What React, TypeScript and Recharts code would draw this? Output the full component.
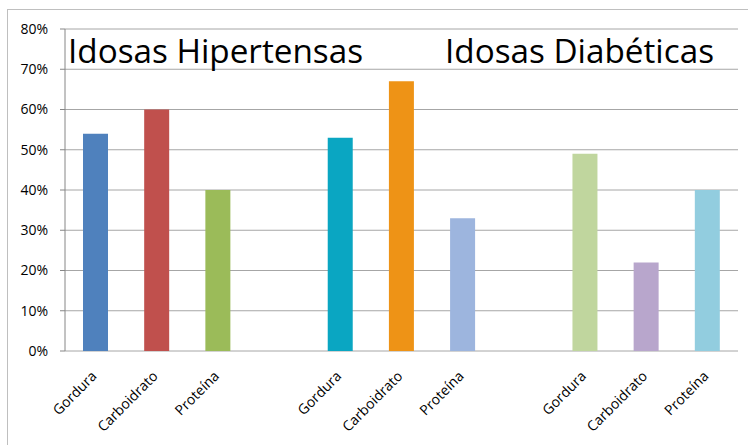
import { BarChart, Bar, XAxis, YAxis, CartesianGrid, Cell } from "recharts";

// 3 groups of 3 nutrients, with an empty slot between groups (as in the Excel sheet)
const categories = [
  "Gordura", "Carboidrato", "Proteína", "",
  "Gordura", "Carboidrato", "Proteína", "",
  "Gordura", "Carboidrato", "Proteína",
];
const values: (number | null)[] = [0.54, 0.6, 0.4, null, 0.53, 0.67, 0.33, null, 0.49, 0.22, 0.4];
const barColors = [
  "#4F81BD", "#C0504D", "#9BBB59", "#ffffff",
  "#0AA6C2", "#EE9316", "#9DB5DE", "#ffffff",
  "#C0D69E", "#B8A6CC", "#92CDDF",
];
const yTicks = [0, 0.1, 0.2, 0.3, 0.4, 0.5, 0.6, 0.7, 0.8];
const boundaryTicks = [0, 1, 2, 3, 4, 5, 6, 7, 8, 9, 10, 11];
const titles = ["Idosas Hipertensas", "Idosas Diabéticas"];

const data = categories.map((c, i) => ({ idx: i, pos: i + 0.5, name: c, value: values[i] }));

const FONT = "'Open Sans', sans-serif";
const pct = (v: number) => `${Math.round(v * 100)}%`;

export default function App() {
  return (
    <div style={{ position: "fixed", left: 0, top: 0, width: 748, height: 445, background: "#fff", overflow: "hidden" }}>
      {/* chart frame, only left and top edges are visible in the crop */}
      <div style={{ position: "absolute", left: 7, top: 9, width: 760, height: 460, borderLeft: "1px solid #bfbfbf", borderTop: "1px solid #bfbfbf" }} />
      <BarChart
        width={748}
        height={445}
        data={data}
        margin={{ top: 29, right: 10, left: 15, bottom: 0 }}
        barSize={25}
        style={{ position: "absolute", left: 0, top: 0, fontFamily: FONT }}
      >
        <CartesianGrid vertical={false} stroke="#a6a6a6" />
        <XAxis
          dataKey="name"
          xAxisId="cat"
          interval={0}
          height={94}
          tickLine={false}
          axisLine={false}
          tickSize={0}
          tickMargin={19}
          angle={-45}
          textAnchor="end"
          tick={{ fill: "#000", fontSize: 14, fontFamily: FONT, dx: -5 }}
        />
        <XAxis
          xAxisId="edge"
          dataKey="pos"
          type="number"
          domain={[0, 11]}
          ticks={boundaryTicks}
          height={0}
          tick={false}
          tickSize={6}
          tickLine={{ stroke: "#868686" }}
          axisLine={{ stroke: "#868686" }}
          allowDataOverflow
        />
        <YAxis
          width={50}
          domain={[0, 0.8]}
          ticks={yTicks}
          tickFormatter={pct}
          tickSize={5}
          tickMargin={12}
          tickLine={{ stroke: "#868686" }}
          axisLine={{ stroke: "#868686" }}
          tick={{ fill: "#000", fontSize: 14, fontFamily: FONT }}
        />
        <Bar dataKey="value" xAxisId="cat" isAnimationActive={false}>
          {data.map((d, i) => (
            <Cell key={i} fill={barColors[i]} />
          ))}
        </Bar>
      </BarChart>
      <svg width={748} height={445} style={{ position: "absolute", left: 0, top: 0, pointerEvents: "none" }}>
        <text x={68} y={63} fontFamily={FONT} fontSize={33} fill="#000" textLength={295} lengthAdjust="spacingAndGlyphs">
          {titles[0]}
        </text>
        <text x={445} y={63} fontFamily={FONT} fontSize={33} fill="#000" textLength={269} lengthAdjust="spacingAndGlyphs">
          {titles[1]}
        </text>
      </svg>
    </div>
  );
}
